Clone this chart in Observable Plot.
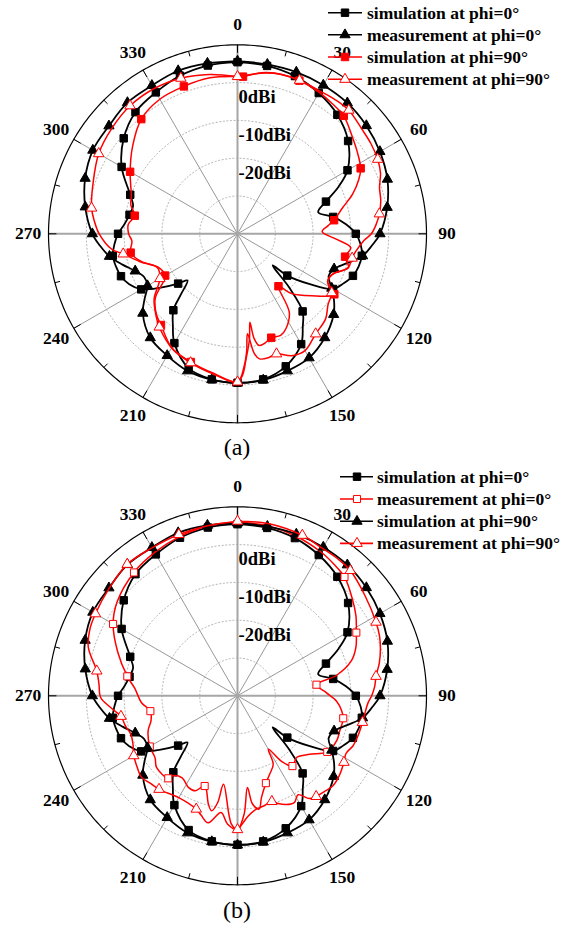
<!DOCTYPE html>
<html>
<head>
<meta charset="utf-8">
<script src="https://cdn.jsdelivr.net/npm/d3@7"></script>
<script src="https://cdn.jsdelivr.net/npm/@observablehq/plot@0.6"></script>
<style>
  html, body { margin: 0; padding: 0; background: #fff; }
  #wrap { position: relative; width: 569px; height: 926px; overflow: hidden; font-family: "Liberation Serif", "Times New Roman", serif; }
  .panel { position: absolute; left: 0; }
  .cap { position: absolute; left: 0; width: 474px; text-align: center; font-size: 24px; line-height: 28px; color: #000; }
  #legend { position: absolute; left: 0; top: 0; pointer-events: none; }
</style>
</head>
<body>
<div id="wrap">
  <div class="panel" id="pa" style="top:0px"></div>
  <div class="cap" style="top:433px">(a)</div>
  <div class="panel" id="pb" style="top:460px"></div>
  <div class="cap" style="top:896px">(b)</div>
  <svg id="legend" width="569" height="926"></svg>
</div>
<script>
// ---------------- data: [angle in degrees, gain in dBi] ----------------
const angleLabels = [0, 30, 60, 90, 120, 150, 210, 240, 270, 300, 330];
const ringLabels = [0, -10, -20];
const ringValues = [-30, -20, -10, 0];
const legendLabels = ["simulation at phi=0°", "measurement at phi=0°", "simulation at phi=90°", "measurement at phi=90°"];

// black squares (simulation at phi=0°), same in both panels
const simPhi0 = [[0,5.4],[10,5.1],[20,4.4],[30,3.0],[40,1.1],[50,-1.8],[60,-6.4],[65,-10.5],[70,-15.1],[75,-17.9],[80,-14.3],[85,-11.2],[90,-8.7],[95,-7.3],[100,-6.6],[105,-6.8],[110,-7.5],[115,-9.0],[120,-10.8],[125,-16.9],[130,-22.8],[132,-27.5],[136,-20.5],[140,-13.2],[145,-9.9],[150,-6.3],[160,-2.7],[170,-0.9],[180,-0.6],[190,-0.9],[200,-2.2],[210,-6.6],[215,-10.2],[220,-13.6],[223,-18],[227,-21.9],[230,-19.5],[235,-15.2],[240,-10.6],[245,-8.4],[250,-7.2],[255,-6.7],[260,-6.5],[265,-7.3],[270,-8.4],[275,-10],[280,-11],[285,-11.4],[290,-9.8],[300,-4.6],[310,-0.7],[320,2.0],[330,3.2],[340,4.5],[350,5.2],[360,5.4]];
// black triangles
const blackTri = [[0,5.7],[10,5.5],[20,5.5],[30,5.4],[40,5.2],[50,4.5],[60,3.5],[70,2.2],[80,0.2],[90,-2.3],[95,-4.3],[100,-6.4],[105,-10],[110,-12.8],[115,-13.4],[120,-11.2],[125,-8.8],[130,-6.8],[140,-4.1],[150,-2.1],[160,-1.4],[170,-0.7],[180,-0.5],[190,-0.8],[200,-1.4],[210,-2.8],[220,-4.1],[230,-7.3],[235,-10],[240,-12.5],[245,-12.8],[250,-11.2],[255,-8.5],[260,-5.6],[265,-3.5],[270,-1.6],[280,0.9],[290,2.9],[300,4.2],[310,4.4],[320,5.3],[330,5.3],[340,5.9],[350,5.8],[360,5.7]];
// panel (a) red squares: simulation at phi=90°
const aSimPhi90 = [[0,1.6],[2,1.6],[6,2.5],[10,3.2],[15,3.7],[22,3.7],[30,3.2],[36,2.6],[42,2.0],[50,-0.3],[56,-1.7],[62,-3.1],[66,-4.9],[71,-7.8],[76,-11.3],[82,-14.2],[85,-16],[88.5,-17.6],[93,-14],[97,-9.8],[102,-10.9],[107,-9.3],[113,-12.7],[118,-13],[122,-9.8],[130,-14.5],[138,-18.8],[142,-22.4],[146.6,-15.1],[153,-11.8],[157,-10.8],[162,-11.1],[166,-10.2],[169,-9.9],[171,-12],[172,-16.4],[173.5,-12],[176,-7],[178,-2.5],[180,-0.8],[190,-2.6],[200,-3.9],[210,-5.2],[220,-8.5],[225,-9.7],[232,-12.4],[240,-17.9],[247,-17.3],[254,-13.5],[260,-11.3],[266,-12],[270,-11.2],[275,-11],[280,-12.4],[285,-10.8],[290,-10.1],[300,-7.2],[310,-3.8],[320,-0.4],[330,1.1],[340,1.5],[350,1.9],[360,1.6]];
// panel (a) red open triangles: measurement at phi=90°
const aMeasPhi90 = [[0,1.6],[2,1.8],[10,3.3],[16,3.8],[22,3.8],[30,3.6],[36,3.9],[42,4.0],[50,3.0],[56,2.6],[62,2.0],[67,1.1],[72,-0.5],[77,-1.1],[82,-2.1],[86,-3.2],[90,-4.6],[93,-6.5],[99,-8.5],[102,-9.0],[107,-9.4],[113,-12.6],[118,-13],[122,-10.6],[128,-9.6],[134,-7.6],[142,-6.4],[150,-4.3],[156,-4.7],[162,-6.6],[166,-6.2],[170,-6.4],[172,-8],[174.3,-13.4],[175.5,-9],[177,-5.2],[180,-0.8],[190,-2.4],[200,-3.7],[209,-4.9],[220,-7.8],[225,-9.5],[232,-12],[240,-16.3],[247,-17],[254,-13.2],[260,-9.3],[263,-6.5],[270,-3.4],[275,-2],[280,-0.8],[290,0.6],[300,2.4],[310,3.4],[320,4.2],[330,4.3],[340,3.8],[350,2.8],[360,1.6]];
// panel (b) red open squares: measurement at phi=0°
const bMeasPhi0 = [[0,6.0],[10,5.7],[20,5.0],[30,4.0],[36,3.2],[42,2.3],[50,-0.3],[56,-2.2],[62,-4.4],[67.6,-6.1],[72.8,-8.4],[78.4,-13.3],[82,-18.9],[88,-16.5],[93,-13.8],[98,-12.2],[102,-11.4],[109,-11.4],[114,-11.2],[122,-12],[129,-15.4],[136,-17.4],[142,-16.4],[146,-19],[150,-23.7],[152.4,-19.6],[157.6,-17.6],[162,-15.7],[166.7,-12.4],[169.2,-9.5],[172.1,-11.1],[173.8,-15.6],[176.8,-8.6],[180,-4.6],[182.7,-6],[189,-16.3],[190.5,-11.3],[192.7,-8.8],[195,-10.3],[200,-14.6],[204,-12.5],[208,-12.5],[214,-13.8],[219,-12.8],[220,-11.5],[228.5,-11.4],[233,-12.7],[240,-13.2],[248.6,-14.6],[254,-16.2],[260,-16.6],[266,-14.5],[274,-12.8],[280,-10.4],[290,-6.3],[300,-2.0],[308,0.4],[320,2.6],[330,3.8],[340,4.8],[350,5.6],[360,6.0]];
// panel (b) red open triangles: measurement at phi=90°
const bMeasPhi90 = [[0,6.2],[10,6.3],[22,5.8],[30,5.0],[36,4.9],[42,4.6],[51.8,2.9],[62,1.5],[67,0.8],[71.8,-0.2],[77,-1.5],[82,-3.0],[86,-3.6],[90,-4.5],[93,-5.4],[98,-6.0],[102,-6.2],[108,-6.4],[113.4,-6.7],[118,-7.5],[122,-6.8],[128,-5.8],[133.3,-5.3],[138,-5.8],[142,-6.2],[145,-6.8],[148.5,-9.3],[152,-8],[156,-8.5],[160,-9.8],[162,-10.6],[167,-10],[171,-9.5],[175,-8],[178,-6],[180,-4.6],[184.5,-6],[188,-8.8],[193,-5.5],[197,-7],[200,-8.1],[210,-8.9],[220,-7.7],[225,-7.3],[229.6,-6.7],[235,-7.5],[240,-8.3],[245,-9.5],[250.2,-10],[255,-9.3],[260,-8.7],[264.7,-6.3],[269.3,-3.8],[275,-3.2],[280,-2.2],[288,1.5],[294,2.8],[300,3.4],[310,4.3],[320,5.4],[330,5.2],[340,5.4],[350,5.7],[360,6.2]];

// marker angles
const every10 = [0,10,20,30,40,50,60,70,80,90,100,110,120,130,140,150,160,170,180,190,200,210,220,230,240,250,260,270,280,290,300,310,320,330,340,350];
const redSqMarksA = [2,22,42,62,82,102,122,142,162,200,220,240,260,280,300,320,340];
const redTriMarks = [0,22,42,62,82,102,122,142,162,180,200,220,240,260,280,300,320,340];
const redSqMarksB = [42,62,82,102,122,142,162,200,220,240,260,280,300,320];

// ---------------- drawing ----------------
const FONT = '"Liberation Serif", "Times New Roman", serif';
const W = 569, R = 189, CX = 237;
const RED = "#ff0000";
const MIN_DB = -40, MAX_DB = 10; // radial range
const circle = (r) => d3.geoCircle().center([0, 90]).radius(r).precision(1)();
const lon = (a) => 180 - a;          // 0° at top, clockwise
const lat = (v) => 90 - (v - MIN_DB); // centre = -40 dBi

function chart(series, cy, H) {
  const rOuter = MAX_DB - MIN_DB;
  const marks = [
    Plot.geo(ringValues.map((v) => circle(v - MIN_DB)), {stroke: "#b4b4b4", strokeWidth: 1, strokeDasharray: "1.2,2.4", fill: "none"}),
    Plot.link(d3.range(0, 360, 30).filter((a) => a % 90 !== 0), {x1: lon, y1: 90, x2: lon, y2: lat(MAX_DB), stroke: "#8c8c8c", strokeWidth: 0.9}),
    Plot.link([0, 90, 180, 270], {x1: lon, y1: 90, x2: lon, y2: lat(MAX_DB), stroke: "#a6a6a6", strokeWidth: 2}),
    Plot.link(d3.range(0, 360, 30), {x1: lon, y1: lat(MAX_DB), x2: lon, y2: lat(MAX_DB) + 2.1, stroke: "black", strokeWidth: 1}),
    Plot.link(d3.range(15, 360, 30), {x1: lon, y1: lat(MAX_DB), x2: lon, y2: lat(MAX_DB) + 1.4, stroke: "black", strokeWidth: 1}),
    Plot.geo([circle(rOuter)], {stroke: "black", strokeWidth: 1.2, fill: "none"}),
    Plot.text(ringLabels, {x: 180, y: (v) => lat(v) + 3.9, text: (v) => `${v}dBi`, textAnchor: "start", dx: 1, fontSize: 18.5, fontWeight: "bold", fill: "black", fontFamily: FONT}),
    Plot.text(angleLabels, {x: lon, y: 90 - 55.4, text: (a) => `${a}`, fontSize: 17.5, fontWeight: "bold", fill: "black", fontFamily: FONT})
  ];
  for (const s of series) {
    const pts = s.data.map(([a, v]) => ({a, v, lon: lon(a), lat: lat(v)}));
    marks.push(Plot.line(pts, {x: "lon", y: "lat", stroke: s.color, strokeWidth: s.sw, curve: "catmull-rom"}));
    marks.push(Plot.dot(pts.filter((p) => s.markers.includes(p.a)), {x: "lon", y: "lat", symbol: s.symbol, r: s.r, fill: s.fill, stroke: s.color, strokeWidth: 1}));
  }
  return Plot.plot({
    width: W, height: H,
    marginLeft: CX - R, marginRight: W - CX - R, marginTop: cy - R, marginBottom: H - cy - R,
    projection: {type: "azimuthal-equidistant", rotate: [0, -90], domain: circle(rOuter), clip: false},
    style: {fontFamily: FONT, background: "transparent", overflow: "visible"},
    marks
  });
}

const seriesA = [
  {label: legendLabels[0], data: simPhi0, markers: every10, color: "black", fill: "black", symbol: "square", r: 4.2, sw: 1.8},
  {label: legendLabels[1], data: blackTri, markers: every10, color: "black", fill: "black", symbol: "triangle", r: 3.8, sw: 1.8},
  {label: legendLabels[2], data: aSimPhi90, markers: redSqMarksA, color: RED, fill: RED, symbol: "square", r: 4.2, sw: 1.5},
  {label: legendLabels[3], data: aMeasPhi90, markers: redTriMarks, color: RED, fill: "white", symbol: "triangle", r: 3.9, sw: 1.5}
];
const seriesB = [
  {label: legendLabels[0], data: simPhi0, markers: every10, color: "black", fill: "black", symbol: "square", r: 4.2, sw: 1.8},
  {label: legendLabels[1], data: bMeasPhi0, markers: redSqMarksB, color: RED, fill: "white", symbol: "square", r: 4.0, sw: 1.5},
  {label: legendLabels[2], data: blackTri, markers: every10, color: "black", fill: "black", symbol: "triangle", r: 3.8, sw: 1.8},
  {label: legendLabels[3], data: bMeasPhi90, markers: redTriMarks, color: RED, fill: "white", symbol: "triangle", r: 3.9, sw: 1.5}
];

document.getElementById("pa").append(chart(seriesA, 233.3, 440));
document.getElementById("pb").append(chart(seriesB, 235.3, 440));

// legends
const leg = d3.select("#legend");
function drawLegend(series, x1, x2, xm, xt, ys) {
  series.forEach((s, i) => {
    const y = ys[i];
    leg.append("line").attr("x1", x1).attr("x2", x2).attr("y1", y).attr("y2", y)
      .attr("stroke", s.color).attr("stroke-width", 1.6);
    const type = s.symbol === "square" ? d3.symbolSquare : d3.symbolTriangle;
    leg.append("path").attr("d", d3.symbol(type, Math.PI * s.r * s.r)())
      .attr("transform", `translate(${xm},${y})`)
      .attr("fill", s.fill).attr("stroke", s.color).attr("stroke-width", 1);
    leg.append("text").attr("x", xt).attr("y", y).attr("dy", "0.34em")
      .attr("font-family", FONT).attr("font-size", 17.5).attr("font-weight", "bold")
      .attr("fill", "black").text(s.label);
  });
}
drawLegend(seriesA, 328, 362, 345, 367, [12.7, 34.8, 57.0, 79.3]);
drawLegend(seriesB, 340, 373, 357, 377, [476.7, 499.0, 521.3, 543.4]);
</script>
</body>
</html>
